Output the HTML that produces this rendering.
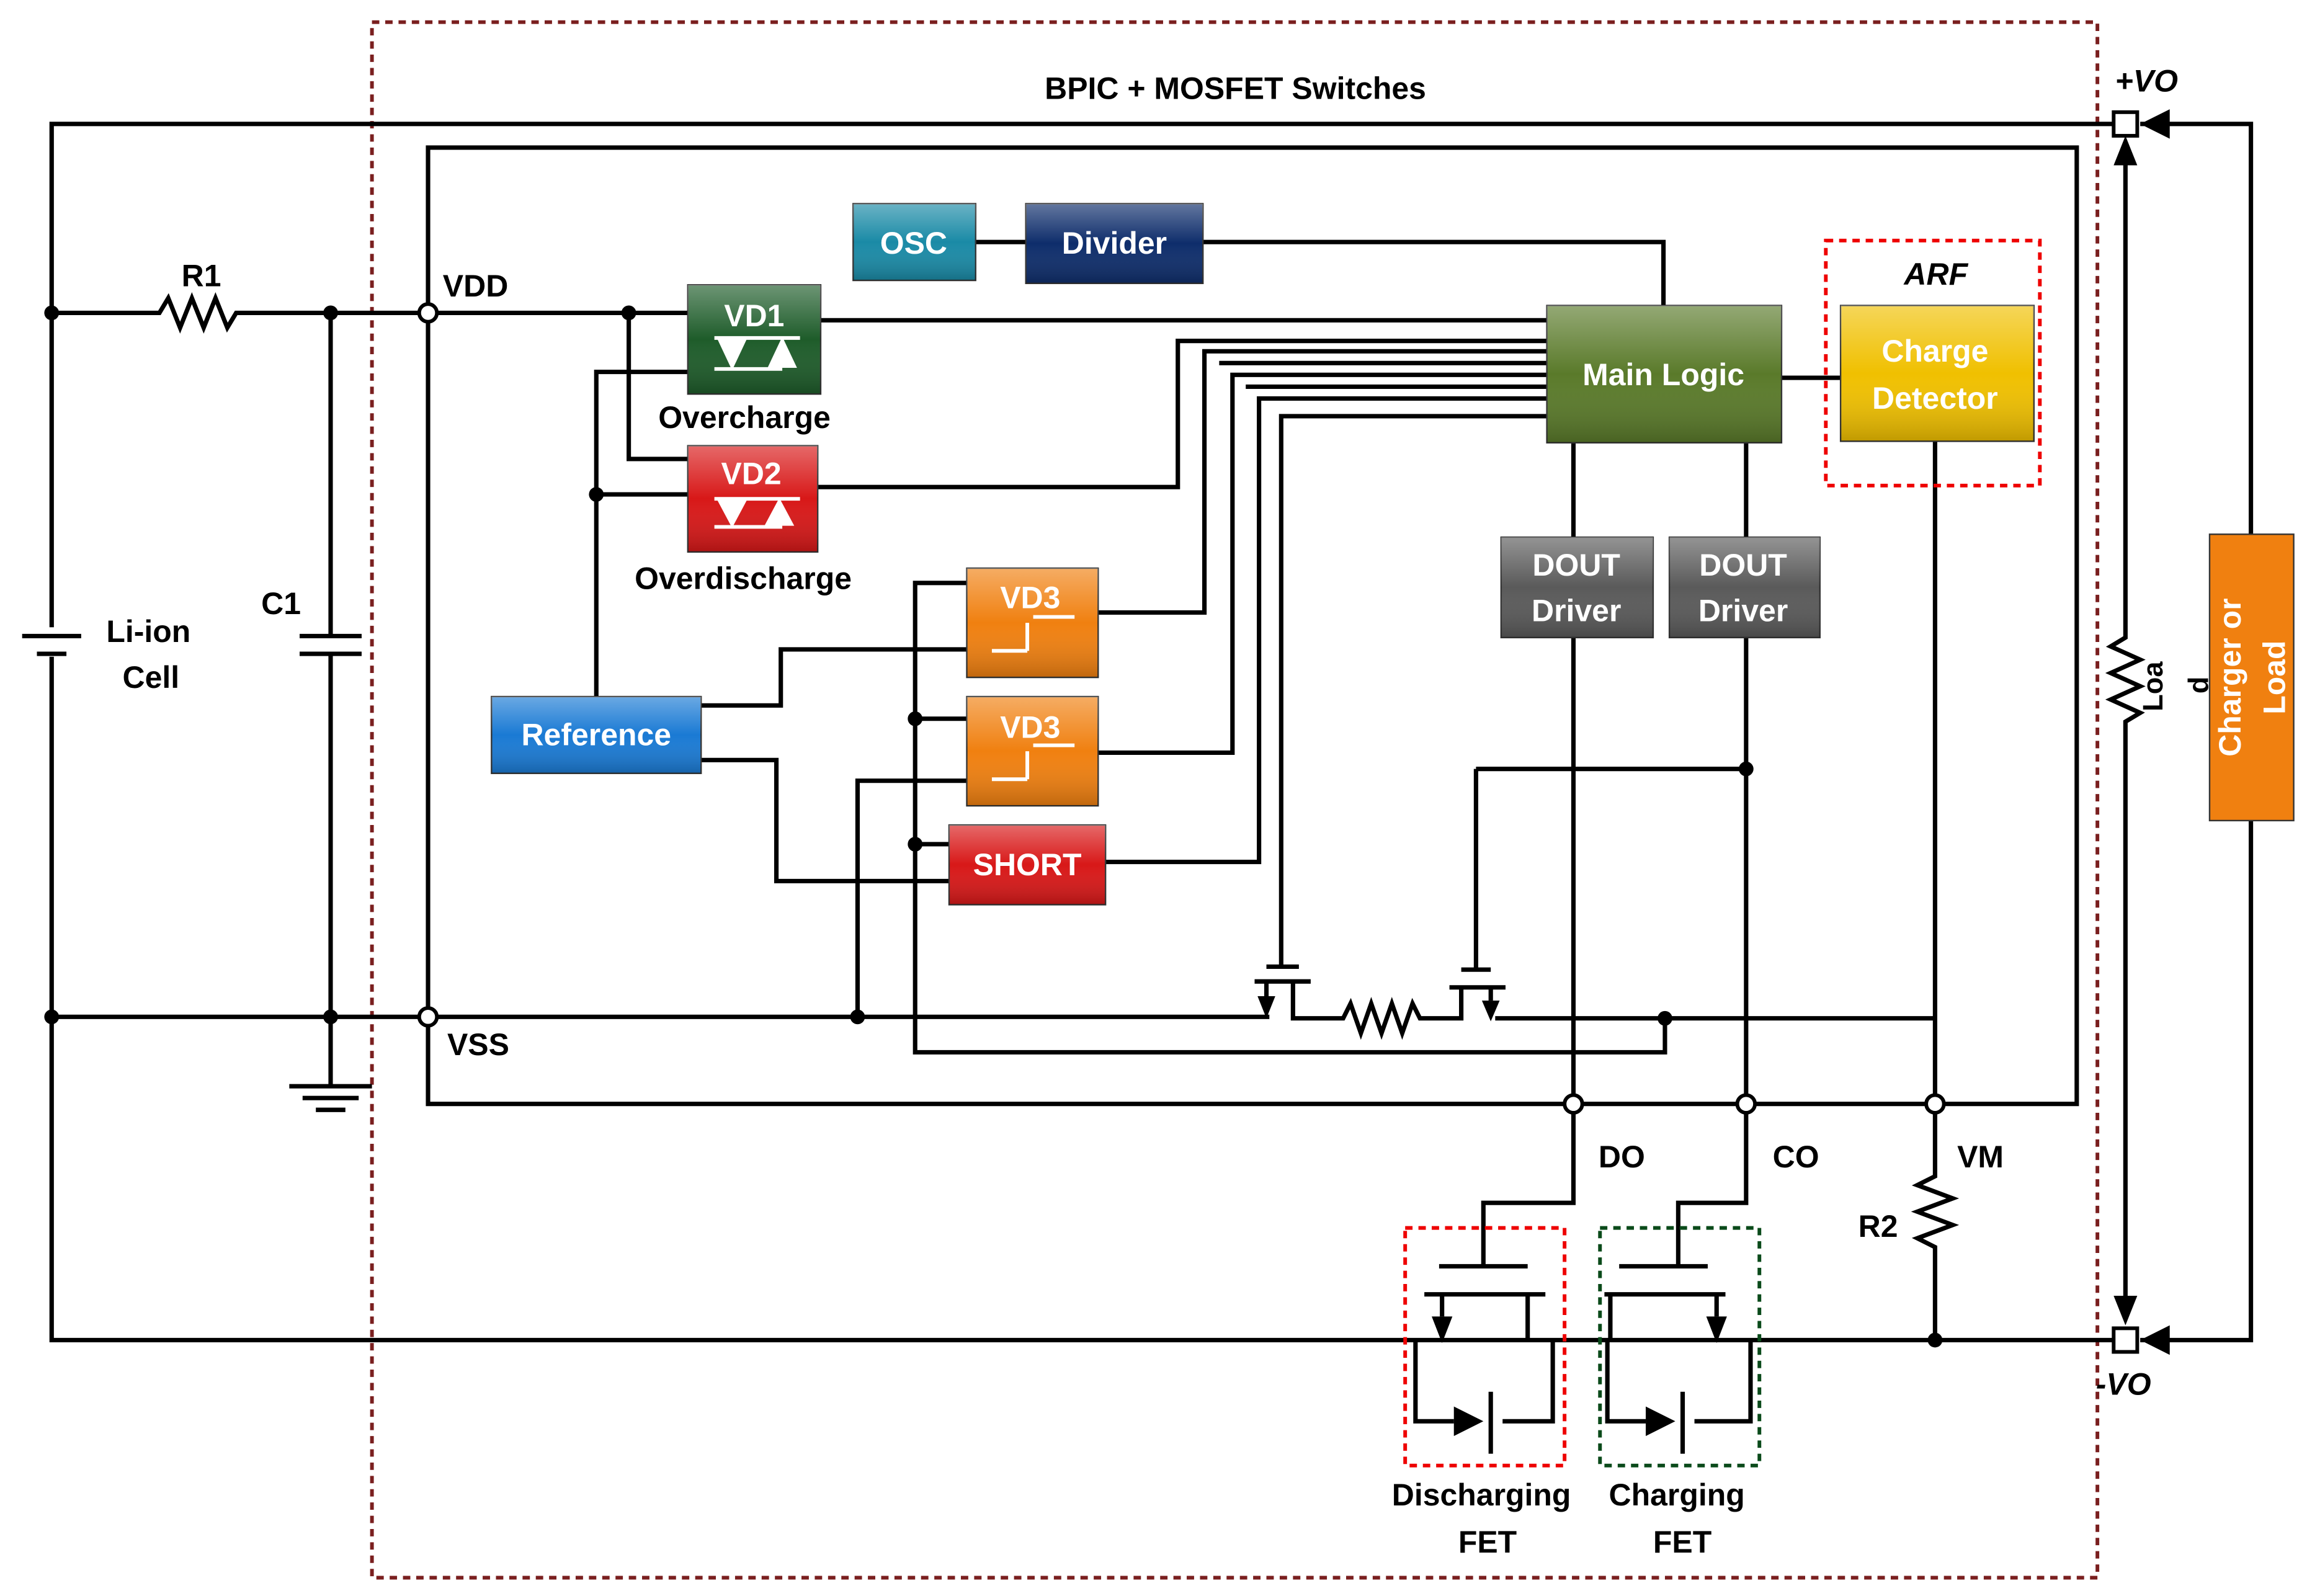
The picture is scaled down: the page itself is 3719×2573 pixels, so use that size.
<!DOCTYPE html>
<html><head><meta charset="utf-8"><style>
html,body{margin:0;padding:0;background:#fff}
svg{display:block}
text{font-family:"Liberation Sans",sans-serif;font-weight:bold}
</style></head><body>
<svg width="3719" height="2573" viewBox="0 0 1563 1081.4" preserveAspectRatio="none" xmlns="http://www.w3.org/2000/svg">
<defs>
<linearGradient id="g" x1="0" y1="0" x2="0" y2="1"><stop offset="0" stop-color="#fff" stop-opacity=".35"/><stop offset=".5" stop-color="#fff" stop-opacity="0"/><stop offset="1" stop-color="#000" stop-opacity=".2"/></linearGradient>
</defs>
<rect width="1563" height="1081.4" fill="#fff"/>
<!-- outer dashed box -->
<rect x="252" y="15" width="1169" height="1054" fill="none" stroke="#7a1f1f" stroke-width="2.5" stroke-dasharray="5,4"/>
<text x="837" y="67" font-size="21" text-anchor="middle">BPIC + MOSFET Switches</text>
<g fill="none" stroke="#000" stroke-width="3">
<!-- main outer loop -->
<polyline points="1434,84 35,84 35,425"/>
<polyline points="35,445 35,908 1434,908"/>
<polyline points="1450,84 1525,84 1525,908 1450,908"/>
<!-- battery -->
<line x1="15" y1="431" x2="55" y2="431"/><line x1="25" y1="443" x2="45" y2="443"/>
<!-- R1 line -->
<polyline points="35,212 108,212 114,202 122,222 130,202 138,222 146,202 154,222 160,212 284,212"/>
<polyline points="35,689 284,689"/>
<!-- C1 -->
<polyline points="224,212 224,430"/><line x1="203" y1="431" x2="245" y2="431"/><line x1="203" y1="443" x2="245" y2="443"/>
<polyline points="224,443 224,735"/>
<line x1="196" y1="736" x2="252" y2="736"/><line x1="205" y1="744" x2="243" y2="744"/><line x1="214" y1="752" x2="234" y2="752"/>
<!-- inner rect -->
<polyline points="290,206 290,100 1407,100 1407,748 1317,748"/>
<polyline points="290,218 290,683"/>
<polyline points="290,695 290,748 1060,748"/>
<line x1="1072" y1="748" x2="1177" y2="748"/><line x1="1189" y1="748" x2="1305" y2="748"/>
<!-- VDD to VD1 -->
<polyline points="296,212 466,212"/>
<polyline points="426,212 426,311 466,311"/>
<polyline points="466,252 404,252 404,472"/>
<polyline points="404,335 466,335"/>
<!-- OSC/Divider -->
<line x1="661" y1="164" x2="695" y2="164"/>
<polyline points="815,164 1127,164 1127,207"/>
<!-- logic lines -->
<line x1="556" y1="217" x2="1048" y2="217"/>
<polyline points="554,330 798,330 798,231 1048,231"/>
<polyline points="744,415 816,415 816,238 1048,238"/>
<polyline points="1048,246 826,246"/>
<polyline points="1048,254 835,254 835,510 744,510"/>
<polyline points="1048,262 844,262"/>
<polyline points="749,584 853,584 853,270 1048,270"/>
<polyline points="1048,282 868,282 868,655"/>
<!-- reference -->
<polyline points="475,478 529,478 529,440 655,440"/>
<polyline points="475,515 526,515 526,597 643,597"/>
<polyline points="655,395 620,395 620,713 1128,713 1128,692"/>
<polyline points="620,487 655,487"/><polyline points="620,572 643,572"/>
<polyline points="655,529 581,529 581,689"/>
<polyline points="296,689 860,689"/>
<!-- small MOSFETs -->
<line x1="858" y1="655" x2="880" y2="655"/>
<line x1="850" y1="665" x2="888" y2="665"/>
<polyline points="858,665 858,675"/>
<polyline points="876,665 876,690 910,690 915,680 922,700 929,680 936,700 943,680 950,700 957,680 962,690 990,690 990,669"/>
<polyline points="1000,521 1000,657"/>
<line x1="990" y1="657" x2="1010" y2="657"/>
<line x1="982" y1="669" x2="1020" y2="669"/>
<polyline points="1010,669 1010,678"/>
<polyline points="1013,690 1311,690"/>
<polyline points="1000,521 1183,521"/>
<!-- DOUT lines -->
<line x1="1066" y1="300" x2="1066" y2="364"/><line x1="1183" y1="300" x2="1183" y2="364"/>
<line x1="1066" y1="432" x2="1066" y2="742"/><line x1="1183" y1="432" x2="1183" y2="742"/>
<line x1="1207" y1="256" x2="1247" y2="256"/>
<line x1="1311" y1="299" x2="1311" y2="742"/>
<polyline points="1311,754 1311,797 1299,803 1323,812 1299,821 1323,830 1299,839 1311,845 1311,908"/>
<!-- FET connections -->
<polyline points="1066,754 1066,815 1005,815 1005,858"/>
<polyline points="1183,754 1183,815 1137,815 1137,858"/>
<line x1="975" y1="858" x2="1035" y2="858"/>
<line x1="965" y1="877" x2="1047" y2="877"/>
<line x1="977" y1="877" x2="977" y2="892"/>
<line x1="1035" y1="877" x2="1035" y2="908"/>
<polyline points="959,908 959,963 985,963"/><line x1="1010" y1="943" x2="1010" y2="985"/><polyline points="1018,963 1052,963 1052,908"/>
<line x1="1097" y1="858" x2="1157" y2="858"/>
<line x1="1087" y1="877" x2="1169" y2="877"/>
<line x1="1091" y1="877" x2="1091" y2="908"/>
<line x1="1163" y1="877" x2="1163" y2="892"/>
<polyline points="1089,908 1089,963 1115,963"/><line x1="1140" y1="943" x2="1140" y2="985"/><polyline points="1148,963 1186,963 1186,908"/>
<!-- load vertical -->
<polyline points="1440,110 1440,432 1430,438 1450,447 1430,456 1450,465 1430,474 1450,483 1440,489 1440,880"/>
</g>
<g fill="#000">
<polygon points="970,892 984,892 977,910"/><polygon points="1156,892 1170,892 1163,910"/>
<polygon points="985,953 985,973 1005,963"/><polygon points="1115,953 1115,973 1135,963"/>
<polygon points="852,675 864,675 858,690"/><polygon points="1004,678 1016,678 1010,692"/>
<polygon points="1432,112 1448,112 1440,92"/><polygon points="1432,878 1448,878 1440,898"/>
<polygon points="1450,84 1470,74 1470,94"/><polygon points="1450,908 1470,898 1470,918"/>
<circle cx="35" cy="212" r="5"/><circle cx="224" cy="212" r="5"/><circle cx="35" cy="689" r="5"/><circle cx="224" cy="689" r="5"/>
<circle cx="426" cy="212" r="5"/><circle cx="404" cy="335" r="5"/><circle cx="620" cy="487" r="5"/><circle cx="620" cy="572" r="5"/>
<circle cx="581" cy="689" r="5"/><circle cx="1128" cy="690" r="5"/><circle cx="1183" cy="521" r="5"/><circle cx="1311" cy="908" r="5"/>
</g>
<g fill="#fff" stroke="#000" stroke-width="2.5">
<circle cx="290" cy="212" r="6"/><circle cx="290" cy="689" r="6"/>
<circle cx="1066" cy="748" r="6"/><circle cx="1183" cy="748" r="6"/><circle cx="1311" cy="748" r="6"/>
<rect x="1432" y="76" width="16" height="16"/><rect x="1432" y="900" width="16" height="16"/>
</g>
<!-- dashed boxes -->
<rect x="1237" y="163" width="145" height="166" fill="none" stroke="#e00" stroke-width="2.5" stroke-dasharray="5,4"/>
<rect x="952" y="832" width="108" height="161" fill="none" stroke="#e00" stroke-width="2.5" stroke-dasharray="5,4"/>
<rect x="1084" y="832" width="108" height="161" fill="none" stroke="#0a4a1a" stroke-width="2.5" stroke-dasharray="5,4"/>
<!-- blocks -->
<g stroke="#333" stroke-width="1">
<rect x="466" y="193" width="90" height="74" fill="#1e5c2a"/>
<rect x="466" y="302" width="88" height="72" fill="#d81818"/>
<rect x="333" y="472" width="142" height="52" fill="#1a7ad4"/>
<rect x="578" y="138" width="83" height="52" fill="#1a8aa6"/>
<rect x="695" y="138" width="120" height="54" fill="#0e2d6b"/>
<rect x="1048" y="207" width="159" height="93" fill="#5a7a2a"/>
<rect x="655" y="385" width="89" height="74" fill="#f08010"/>
<rect x="655" y="472" width="89" height="74" fill="#f08010"/>
<rect x="643" y="559" width="106" height="54" fill="#d81818"/>
<rect x="1017" y="364" width="103" height="68" fill="#5a5a5a"/>
<rect x="1131" y="364" width="102" height="68" fill="#5a5a5a"/>
<rect x="1247" y="207" width="131" height="92" fill="#f0c000"/>
<rect x="1497" y="362" width="57" height="194" fill="#f08010"/>
</g>
<g fill="url(#g)">
<rect x="466" y="193" width="90" height="74"/><rect x="466" y="302" width="88" height="72"/><rect x="333" y="472" width="142" height="52"/>
<rect x="578" y="138" width="83" height="52"/><rect x="695" y="138" width="120" height="54"/><rect x="1048" y="207" width="159" height="93"/>
<rect x="655" y="385" width="89" height="74"/><rect x="655" y="472" width="89" height="74"/><rect x="643" y="559" width="106" height="54"/>
<rect x="1017" y="364" width="103" height="68"/><rect x="1131" y="364" width="102" height="68"/><rect x="1247" y="207" width="131" height="92"/>
</g>
<!-- diode symbols in VD1/VD2 -->
<g stroke="#fff" stroke-width="2.5" fill="#fff">
<line x1="484" y1="229" x2="542" y2="229"/><line x1="484" y1="250" x2="530" y2="250"/>
<polygon points="488,231 504,231 496,248"/><polygon points="522,248 538,248 530,231"/>
<line x1="484" y1="338" x2="542" y2="338"/><line x1="484" y1="357" x2="530" y2="357"/>
<polygon points="488,340 504,340 496,355"/><polygon points="520,355 536,355 528,340"/>
<line x1="700" y1="418" x2="728" y2="418"/><line x1="672" y1="441" x2="696" y2="441"/><line x1="696" y1="422" x2="696" y2="441"/>
<line x1="700" y1="505" x2="728" y2="505"/><line x1="672" y1="528" x2="696" y2="528"/><line x1="696" y1="509" x2="696" y2="528"/>
</g>
<g fill="#fff" font-size="21" text-anchor="middle">
<text x="511" y="221">VD1</text><text x="509" y="328">VD2</text>
<text x="698" y="412">VD3</text><text x="698" y="500">VD3</text>
<text x="404" y="505">Reference</text><text x="619" y="172">OSC</text><text x="755" y="172">Divider</text>
<text x="1127" y="261">Main Logic</text><text x="696" y="593">SHORT</text>
<text x="1068" y="390">DOUT</text><text x="1068" y="421">Driver</text>
<text x="1181" y="390">DOUT</text><text x="1181" y="421">Driver</text>
<text x="1311" y="245">Charge</text><text x="1311" y="277">Detector</text>
<text transform="translate(1518,459) rotate(-90)">Charger or</text>
<text transform="translate(1548,459) rotate(-90)">Load</text>
</g>
<g fill="#000" font-size="21">
<text x="123" y="194">R1</text><text x="300" y="201">VDD</text><text x="303" y="715">VSS</text>
<text x="177" y="416">C1</text><text x="72" y="435">Li-ion</text><text x="83" y="466">Cell</text>
<text x="446" y="290">Overcharge</text><text x="430" y="399">Overdischarge</text>
<text x="1083" y="791">DO</text><text x="1201" y="791">CO</text><text x="1326" y="791">VM</text><text x="1259" y="838">R2</text>
<text x="1290" y="193" font-style="italic">ARF</text>
<text x="1433" y="62" font-style="italic">+VO</text><text x="1420" y="945" font-style="italic">-VO</text>
<text x="943" y="1020">Discharging</text><text x="988" y="1052">FET</text>
<text x="1090" y="1020">Charging</text><text x="1120" y="1052">FET</text>
<text transform="translate(1465,482) rotate(-90)" font-size="19">Loa</text>
<text transform="translate(1496,470) rotate(-90)" font-size="19">d</text>
</g>
</svg>
</body></html>
